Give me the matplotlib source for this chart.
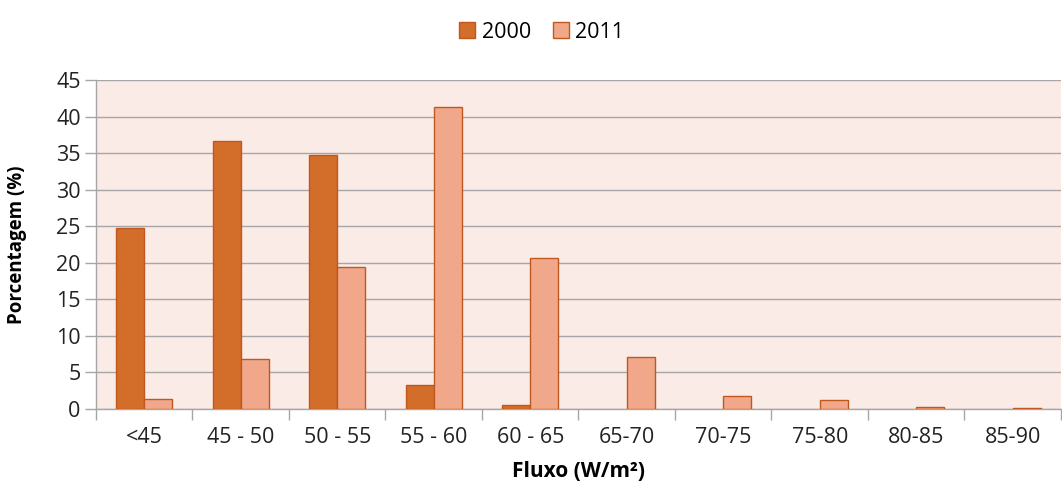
import matplotlib.pyplot as plt
import numpy as np

categories = ['<45', '45 - 50', '50 - 55', '55 - 60', '60 - 65',
              '65-70', '70-75', '75-80', '80-85', '85-90']
v2000 = [24.8, 36.7, 34.7, 3.3, 0.5, 0, 0, 0, 0, 0]
v2011 = [1.4, 6.8, 19.4, 41.3, 20.6, 7.1, 1.8, 1.2, 0.3, 0.15]

plt.rcParams['font.family'] = ['Open Sans', 'DejaVu Sans']
fs = 15.5

fig = plt.figure(figsize=(10.62, 4.95), dpi=100)
ax = fig.add_axes([0.0904, 0.1737, 0.9086, 0.6647])
ax.set_facecolor('#FAEBE6')

x = np.arange(len(categories))
w = 0.29
# no outline for empty bars
lw2000 = [1 if v > 0 else 0 for v in v2000]
ax.bar(x - w / 2, v2000, w, color='#D36D2A', edgecolor='#C0571E', linewidth=lw2000, label='2000', zorder=3)
ax.bar(x + w / 2, v2011, w, color='#F1A88A', edgecolor='#C0571E', linewidth=1, label='2011', zorder=3)

ax.set_xlim(-0.5, len(categories) - 0.5)
ax.set_ylim(0, 45)
ax.set_yticks(range(0, 46, 5))
ax.yaxis.grid(True, color='#A6A6A6', linewidth=1, zorder=1)
ax.set_xticks(x)
ax.set_xticklabels(categories)
ax.set_xticks(np.arange(-0.5, len(categories), 1), minor=True)
ax.tick_params(axis='x', which='major', length=0, pad=13, labelsize=fs, labelcolor='#222222')
ax.tick_params(axis='x', which='minor', length=8, color='#A6A6A6', width=1)
ax.tick_params(axis='y', length=8, color='#A6A6A6', width=1, labelsize=fs, labelcolor='#222222', pad=3)

for s in ['top', 'right']:
    ax.spines[s].set_visible(False)
for s in ['left', 'bottom']:
    ax.spines[s].set_color('#A6A6A6')
    ax.spines[s].set_linewidth(1)

ax.set_ylabel('Porcentagem (%)', fontsize=13.5, fontweight='bold')
ax.yaxis.set_label_coords(-0.071, 0.5)
ax.set_xlabel('Fluxo (W/m²)', fontsize=fs - 0.5, fontweight='bold', labelpad=9)

fig.legend(loc='upper center', bbox_to_anchor=(0.51, 0.995), ncol=2, frameon=False,
           fontsize=fs, handlelength=0.75, handleheight=0.75, handletextpad=0.3, columnspacing=1.0)

fig.savefig('out.png', dpi=100)
